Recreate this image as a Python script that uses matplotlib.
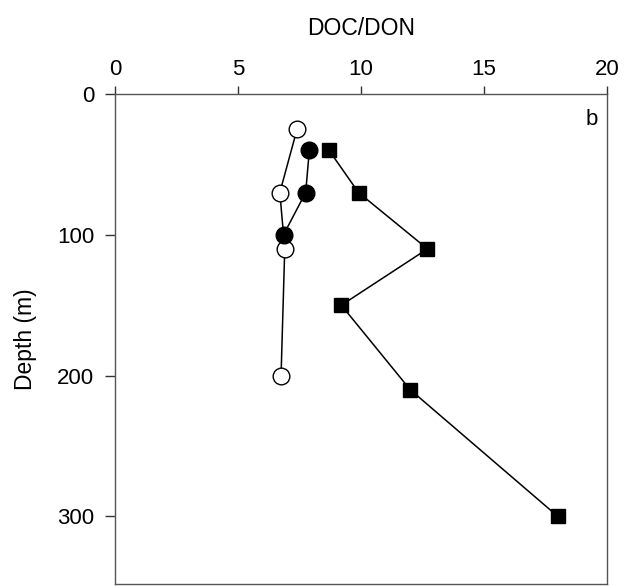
import matplotlib.pyplot as plt

plt.rcParams['font.family'] = ['Liberation Sans', 'DejaVu Sans']

# depth profiles of DOC/DON
open_ratio = [7.4, 6.7, 6.9, 6.75]
open_depth = [25, 70, 110, 200]

filled_ratio = [7.9, 7.75, 6.85]
filled_depth = [40, 70, 100]

square_ratio = [8.7, 9.9, 12.7, 9.2, 12.0, 18.0]
square_depth = [40, 70, 110, 150, 210, 300]

x_ticks = [0, 5, 10, 15, 20]
y_ticks = [0, 100, 200, 300]

fig = plt.figure(figsize=(6.26, 5.86), dpi=100)
ax = fig.add_axes([0.1837, 0.0034, 0.786, 0.8362])

ax.plot(open_ratio, open_depth, '-o', color='black', mfc='white', mec='black',
        ms=12, lw=1.1, mew=1.0, zorder=2)
ax.plot(filled_ratio, filled_depth, '-o', color='black', mfc='black',
        ms=12, lw=1.1, zorder=3)
ax.plot(square_ratio, square_depth, '-s', color='black', mfc='black',
        ms=10.5, lw=1.1, zorder=3)

ax.set_xlim(0, 20)
ax.set_ylim(348, 0)
ax.set_xticks(x_ticks)
ax.set_yticks(y_ticks)

ax.xaxis.tick_top()
ax.xaxis.set_label_position('top')
ax.tick_params(axis='both', direction='out', width=1,
               labelsize=16, color='#333333')
ax.tick_params(axis='x', length=6, pad=4)
ax.tick_params(axis='y', length=7, pad=8)
for s in ax.spines.values():
    s.set_color('#555555')
    s.set_linewidth(1.0)

ax.set_xlabel('DOC/DON', fontsize=16.5, labelpad=17)
ax.set_ylabel('Depth (m)', fontsize=16.5, labelpad=14)
ax.text(0.982, 0.947, 'b', transform=ax.transAxes, fontsize=16,
        ha='right', va='center')

fig.savefig('out.png', dpi=100, facecolor='white')
